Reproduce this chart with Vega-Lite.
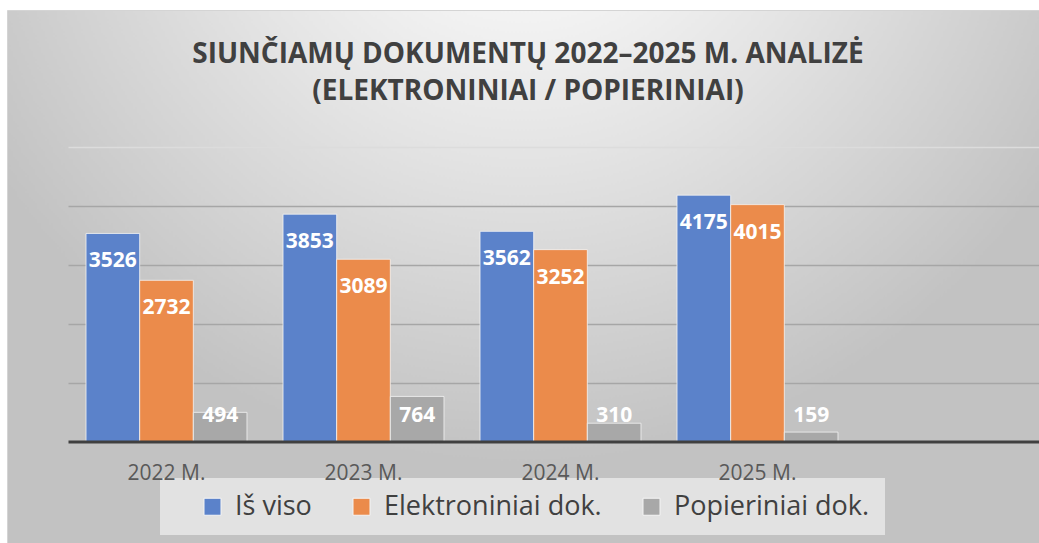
{
  "$schema": "https://vega.github.io/schema/vega-lite/v6.json",
  "width": 1032,
  "height": 533,
  "autosize": {"type": "none"},
  "padding": {"left": 7, "top": 10, "right": 0, "bottom": 0},
  "background": "#ffffff",
  "config": {
    "font": "Open Sans",
    "view": {
      "fill": {
        "gradient": "radial",
        "x1": 0.5, "y1": 0.08, "r1": 0,
        "x2": 0.5, "y2": 0.08, "r2": 0.6,
        "stops": [
          {"offset": 0, "color": "#ffffff"},
          {"offset": 0.2, "color": "#f7f7f7"},
          {"offset": 0.5, "color": "#e4e4e4"},
          {"offset": 1, "color": "#c2c2c2"}
        ]
      },
      "stroke": "#d4d4d4",
      "strokeWidth": 1
    }
  },
  "title": {
    "text": ["SIUNČIAMŲ DOKUMENTŲ 2022–2025 M. ANALIZĖ", "(ELEKTRONINIAI / POPIERINIAI)"],
    "font": "Open Sans",
    "fontSize": 28,
    "fontWeight": "bold",
    "color": "#404040",
    "lineHeight": 37,
    "anchor": "middle",
    "offset": -96,
    "dx": 5
  },
  "data": {
    "values": [
      {"year": "2022 M.", "series": "Iš viso", "value": 3526},
      {"year": "2022 M.", "series": "Elektroniniai dok.", "value": 2732},
      {"year": "2022 M.", "series": "Popieriniai dok.", "value": 494},
      {"year": "2023 M.", "series": "Iš viso", "value": 3853},
      {"year": "2023 M.", "series": "Elektroniniai dok.", "value": 3089},
      {"year": "2023 M.", "series": "Popieriniai dok.", "value": 764},
      {"year": "2024 M.", "series": "Iš viso", "value": 3562},
      {"year": "2024 M.", "series": "Elektroniniai dok.", "value": 3252},
      {"year": "2024 M.", "series": "Popieriniai dok.", "value": 310},
      {"year": "2025 M.", "series": "Iš viso", "value": 4175},
      {"year": "2025 M.", "series": "Elektroniniai dok.", "value": 4015},
      {"year": "2025 M.", "series": "Popieriniai dok.", "value": 159}
    ]
  },
  "encoding": {
    "x": {
      "field": "year",
      "type": "nominal",
      "sort": null,
      "scale": {
        "domain": ["2022 M.", "2023 M.", "2024 M.", "2025 M.", " "],
        "range": [61, 1046],
        "paddingInner": 0.183,
        "paddingOuter": 0.0915
      },
      "axis": {
        "title": null,
        "orient": "bottom",
        "offset": -101.5,
        "domainColor": "#404040",
        "domainWidth": 3,
        "ticks": false,
        "grid": false,
        "labelAngle": 0,
        "labelFont": "Open Sans",
        "labelFontSize": 21,
        "labelColor": "#595959",
        "labelPadding": 21,
        "zindex": 1
      }
    },
    "xOffset": {
      "field": "series",
      "type": "nominal",
      "sort": null,
      "scale": {
        "domain": ["Iš viso", "Elektroniniai dok.", "Popieriniai dok."],
        "paddingInner": 0,
        "paddingOuter": 0
      }
    }
  },
  "layer": [
    {
      "mark": {"type": "bar", "stroke": "#f4f4f4", "strokeWidth": 1, "strokeOpacity": 0.8},
      "encoding": {
        "y": {
          "field": "value",
          "type": "quantitative",
          "scale": {"domain": [0, 5000], "range": [431.5, 136.5], "nice": false, "zero": true},
          "axis": {
            "title": null,
            "labels": false,
            "ticks": false,
            "domain": false,
            "grid": true,
            "values": [1000, 2000, 3000, 4000, 5000],
            "gridColor": {"condition": {"test": "datum.value >= 5000", "value": "#dcdcdc"}, "value": "#a6a6a6"},
            "gridWidth": 1.3
          }
        },
        "color": {
          "field": "series",
          "type": "nominal",
          "sort": null,
          "scale": {
            "domain": ["Iš viso", "Elektroniniai dok.", "Popieriniai dok."],
            "range": ["#5b82ca", "#eb8b4b", "#a8a8a8"]
          },
          "legend": {
            "title": null,
            "orient": "none",
            "direction": "horizontal",
            "legendX": 153,
            "legendY": 468,
            "fillColor": "#e2e2e2",
            "padding": 15,
            "symbolType": "square",
            "symbolSize": 289,
            "symbolStrokeColor": "#f4f4f4",
            "symbolStrokeWidth": 1,
            "symbolOffset": 24,
            "labelOffset": 9,
            "labelLimit": 500,
            "labelFont": "Open Sans",
            "labelFontSize": 27,
            "labelColor": "#404040",
            "columnPadding": 12
          }
        }
      }
    },
    {
      "transform": [{"filter": "datum.value >= 1000"}],
      "mark": {"type": "text", "color": "#ffffff", "font": "Open Sans", "fontSize": 21, "fontWeight": "bold", "baseline": "middle", "dy": 28},
      "encoding": {
        "y": {"field": "value", "type": "quantitative"},
        "text": {"field": "value", "type": "quantitative", "format": "d"}
      }
    },
    {
      "transform": [{"filter": "datum.value < 1000"}],
      "mark": {"type": "text", "color": "#ffffff", "font": "Open Sans", "fontSize": 21, "fontWeight": "bold", "baseline": "middle", "dy": -26},
      "encoding": {
        "y": {"datum": 0, "type": "quantitative"},
        "text": {"field": "value", "type": "quantitative", "format": "d"}
      }
    }
  ]
}
